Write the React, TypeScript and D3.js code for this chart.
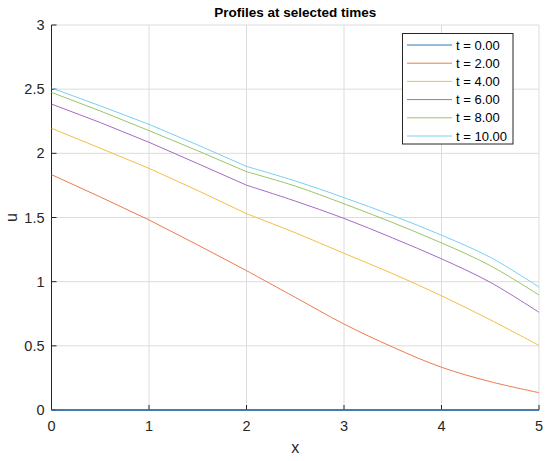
import { useEffect } from "react";
import * as d3 from "d3";

const xs = [0, 0.5, 1, 1.5, 2, 2.5, 3, 3.5, 4, 4.5, 5];

const u0 = [0, 0, 0, 0, 0, 0, 0, 0, 0, 0, 0];
const u2 = [1.834, 1.66, 1.481, 1.286, 1.086, 0.878, 0.67, 0.49, 0.333, 0.221, 0.135];
const u4 = [2.195, 2.04, 1.883, 1.71, 1.53, 1.381, 1.221, 1.062, 0.89, 0.703, 0.503];
const u6 = [2.384, 2.24, 2.086, 1.92, 1.752, 1.628, 1.493, 1.34, 1.178, 0.995, 0.761];
const u8 = [2.475, 2.33, 2.177, 2.02, 1.857, 1.745, 1.607, 1.46, 1.302, 1.125, 0.896];
const u10 = [2.509, 2.37, 2.226, 2.065, 1.898, 1.785, 1.655, 1.515, 1.362, 1.19, 0.958];

const seriesLabels = ["t = 0.00", "t = 2.00", "t = 4.00", "t = 6.00", "t = 8.00", "t = 10.00"];
const seriesValues = [u0, u2, u4, u6, u8, u10];
const colors = ["#2F78B4", "#EE7A4C", "#F3BF45", "#A66AC2", "#9BC566", "#79D0F3"];

const xTicks = [0, 1, 2, 3, 4, 5];
const yTicks = [0, 0.5, 1, 1.5, 2, 2.5, 3];

const W = 550;
const H = 461;
const margin = { top: 25, right: 11, bottom: 51, left: 51.5 };
const font = "Arial, 'Liberation Sans', Helvetica, sans-serif";

export default function App() {
  useEffect(() => {
    document.body.style.margin = "0";
  }, []);

  const x = d3.scaleLinear().domain([0, 5]).range([margin.left, W - margin.right]);
  const y = d3.scaleLinear().domain([0, 3]).range([H - margin.bottom, margin.top]);

  // straight part up to x = 2, smooth after the kink
  const lineStraight = d3
    .line<[number, number]>()
    .x((d) => x(d[0]))
    .y((d) => y(d[1]));
  const lineSmooth = d3
    .line<[number, number]>()
    .x((d) => x(d[0]))
    .y((d) => y(d[1]))
    .curve(d3.curveCatmullRom.alpha(0.5));

  const axisColor = "#262626";
  const gridColor = "#dcdcdc";

  // legend box
  const lgX = 402.5;
  const lgY = 33.5;
  const lgW = 110.5;
  const lgH = 110.5;
  const rowStep = 18.2;

  return (
    <svg width={W} height={H} style={{ display: "block", background: "#fff" }}>
      <rect x={0} y={0} width={W} height={H} fill="#fff" />

      {/* grid */}
      {xTicks.map((t) => (
        <line key={"gx" + t} x1={x(t)} x2={x(t)} y1={y(0)} y2={y(3)} stroke={gridColor} strokeWidth={1} />
      ))}
      {yTicks.map((t) => (
        <line key={"gy" + t} x1={x(0)} x2={x(5)} y1={y(t)} y2={y(t)} stroke={gridColor} strokeWidth={1} />
      ))}

      {/* axes */}
      <line x1={x(0)} x2={x(0)} y1={y(0)} y2={y(3)} stroke={axisColor} strokeWidth={1} />
      <line x1={x(0)} x2={x(5)} y1={y(0)} y2={y(0)} stroke={axisColor} strokeWidth={1} />
      {xTicks.map((t) => (
        <line key={"tx" + t} x1={x(t)} x2={x(t)} y1={y(0)} y2={y(0) - 5} stroke={axisColor} strokeWidth={1} />
      ))}
      {yTicks.map((t) => (
        <line key={"ty" + t} x1={x(0)} x2={x(0) + 5} y1={y(t)} y2={y(t)} stroke={axisColor} strokeWidth={1} />
      ))}

      {/* tick labels */}
      {xTicks.map((t) => (
        <text key={"lx" + t} x={x(t)} y={y(0) + 21} textAnchor="middle" fontFamily={font} fontSize={14.5} fill={axisColor}>
          {t}
        </text>
      ))}
      {yTicks.map((t) => (
        <text key={"ly" + t} x={x(0) - 7} y={y(t) + 5} textAnchor="end" fontFamily={font} fontSize={14.5} fill={axisColor}>
          {t}
        </text>
      ))}

      {/* axis labels and title */}
      <text x={(x(0) + x(5)) / 2} y={453} textAnchor="middle" fontFamily={font} fontSize={16} fill={axisColor}>
        x
      </text>
      <text
        transform={`translate(17,${(y(0) + y(3)) / 2}) rotate(-90)`}
        textAnchor="middle"
        fontFamily={font}
        fontSize={16}
        fill={axisColor}
      >
        u
      </text>
      <text x={(x(0) + x(5)) / 2} y={17} textAnchor="middle" fontFamily={font} fontSize={13.5} fontWeight="bold" fill="#000">
        Profiles at selected times
      </text>

      {/* profiles */}
      {seriesValues.map((vals, i) => {
        const pts = vals.map((v, j) => [xs[j], v] as [number, number]);
        const head = pts.filter((p) => p[0] <= 2);
        const tail = pts.filter((p) => p[0] >= 2);
        return (
          <g key={"s" + i}>
            <path d={lineStraight(head) ?? ""} fill="none" stroke={colors[i]} strokeWidth={i === 0 ? 1.5 : 1} />
            <path d={lineSmooth(tail) ?? ""} fill="none" stroke={colors[i]} strokeWidth={i === 0 ? 1.5 : 1} />
          </g>
        );
      })}

      {/* legend */}
      <rect x={lgX} y={lgY} width={lgW} height={lgH} fill="#fff" stroke="#262626" strokeWidth={1} />
      {seriesLabels.map((lab, i) => {
        const cy = 45 + i * rowStep;
        return (
          <g key={"lg" + i}>
            <line x1={407} x2={452} y1={cy} y2={cy} stroke={colors[i]} strokeWidth={1} />
            <text x={456} y={cy + 4.5} fontFamily={font} fontSize={13} fill="#000">
              {lab}
            </text>
          </g>
        );
      })}
    </svg>
  );
}
